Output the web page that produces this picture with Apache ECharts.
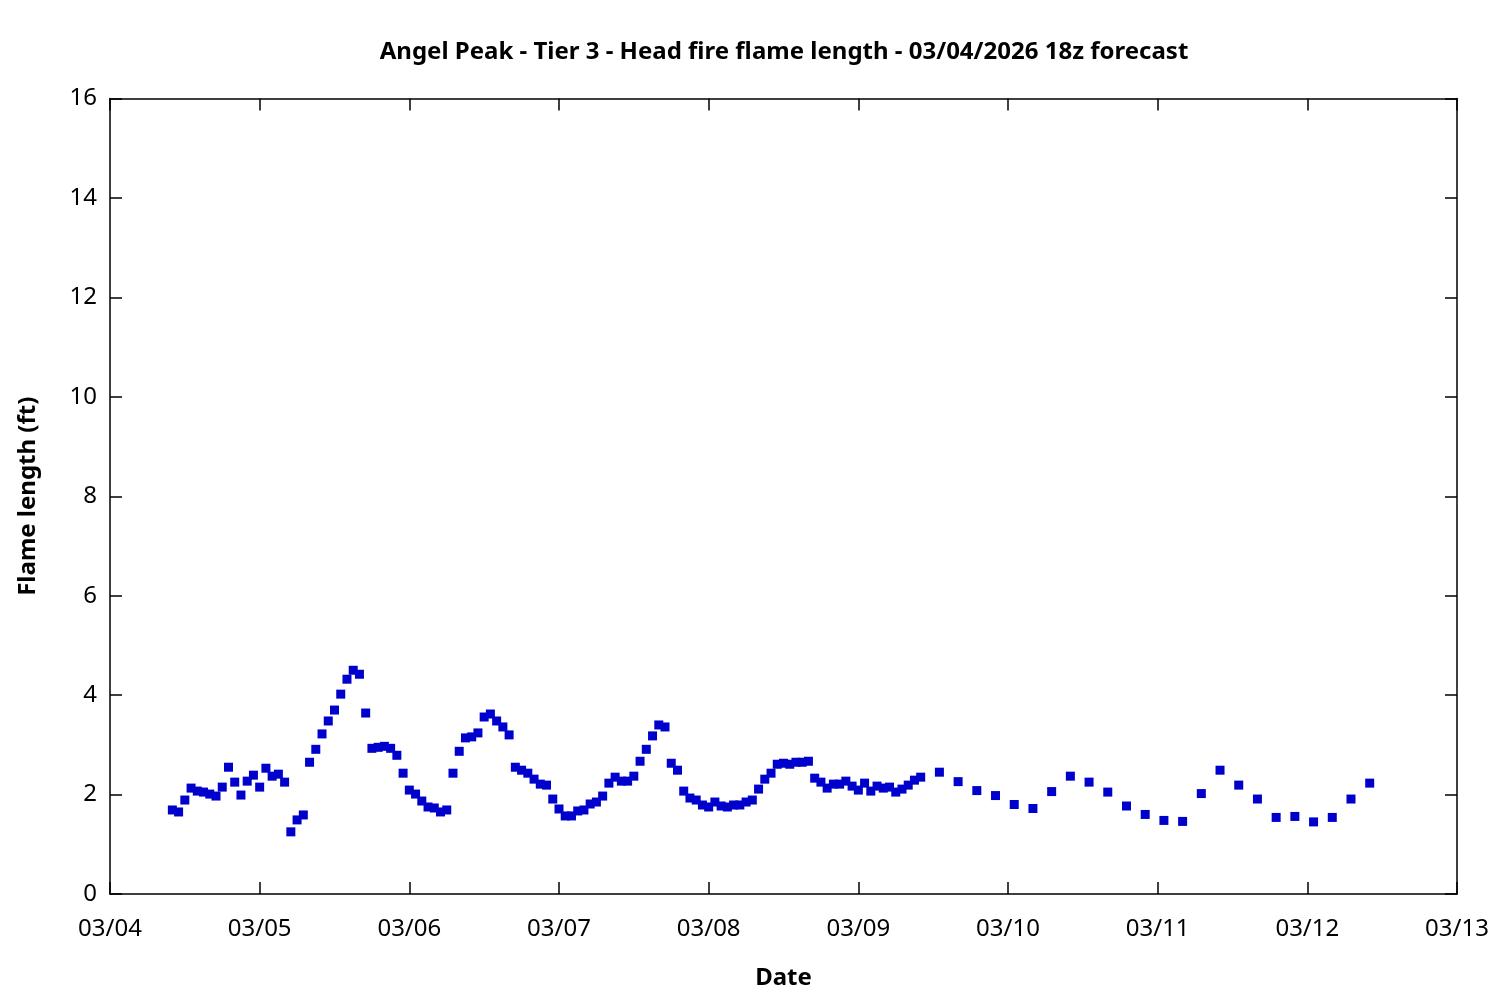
<!DOCTYPE html>
<html>
<head>
<meta charset="utf-8">
<script src="https://cdn.jsdelivr.net/npm/echarts@6/dist/echarts.min.js"></script>
<style>html,body{margin:0;padding:0;background:#fff}#c{width:1500px;height:1000px}</style>
</head>
<body>
<div id="c"></div>
<script>
// Hourly forecast, 03/04 10z .. 03/09 10z
var hourlyStart = '2026-03-04 10:00';
var hourlyValues = [
  1.69,1.65,1.89,2.13,2.07,2.05,2.01,1.97,2.15,2.55,2.25,1.99,2.27,2.39,2.15,2.53,2.37,2.41,2.25,1.25,
  1.49,1.59,2.65,2.91,3.22,3.48,3.70,4.02,4.32,4.50,4.42,3.64,2.93,2.95,2.97,2.93,2.79,2.43,2.09,2.01,
  1.87,1.75,1.73,1.65,1.69,2.43,2.87,3.14,3.16,3.24,3.56,3.62,3.48,3.36,3.20,2.55,2.49,2.43,2.31,2.21,
  2.19,1.91,1.71,1.57,1.57,1.67,1.69,1.81,1.85,1.97,2.23,2.35,2.27,2.27,2.37,2.67,2.91,3.18,3.40,3.36,
  2.63,2.49,2.07,1.93,1.89,1.79,1.75,1.85,1.77,1.75,1.79,1.79,1.85,1.89,2.11,2.31,2.43,2.61,2.63,2.61,
  2.65,2.65,2.67,2.33,2.25,2.13,2.21,2.21,2.27,2.17,2.09,2.23,2.07,2.17,2.13,2.15,2.05,2.11,2.19,2.29,
  2.35
];
// 3-hourly forecast, 03/09 13z .. 03/12 10z
var threeHourlyStart = '2026-03-09 13:00';
var threeHourlyValues = [
  2.45,2.26,2.08,1.98,1.80,1.72,2.06,2.37,2.25,2.05,1.77,1.60,1.48,1.46,2.02,2.49,2.19,1.91,1.54,1.56,
  1.45,1.54,1.91,2.23
];
var xTickLabels = ['03/04','03/05','03/06','03/07','03/08','03/09','03/10','03/11','03/12','03/13'];
var yTickLabels = ['0','2','4','6','8','10','12','14','16'];

var titleText = 'Angel Peak - Tier 3 - Head fire flame length - 03/04/2026 18z forecast';
var xName = 'Date';
var yName = 'Flame length (ft)';

// hours since 03/04 00z
function hoursFrom(str){
  var d = str.split(' '), dp = d[0].split('-'), tp = d[1].split(':');
  var day = parseInt(dp[2],10) - 4;
  return day*24 + parseInt(tp[0],10);
}
var pts = [];
var h0 = hoursFrom(hourlyStart);
hourlyValues.forEach(function(v,i){ pts.push([h0 + i, v]); });
var h1 = hoursFrom(threeHourlyStart);
threeHourlyValues.forEach(function(v,i){ pts.push([h1 + 3*i, v]); });

var FONT = '"Noto Sans", "Open Sans", sans-serif';
var FS = 24;
var chart = echarts.init(document.getElementById('c'), null, {renderer:'canvas'});
var lineStyle = {color:'#000', width:1.5};
chart.setOption({
  animation:false,
  backgroundColor:'#fff',
  title:{
    text:titleText, left:779, top:35, textAlign:'center',
    textStyle:{fontFamily:FONT, fontWeight:'bold', fontSize:FS, color:'#000'}
  },
  grid:{left:110, right:43, top:98.5, bottom:106, containLabel:false},
  xAxis:[{
    type:'value', min:0, max:216, interval:24,
    name:xName, nameLocation:'middle', nameGap:72,
    nameTextStyle:{fontFamily:FONT, fontWeight:'bold', fontSize:FS, color:'#000'},
    axisLine:{show:true, onZero:false, lineStyle:lineStyle},
    axisTick:{show:true, inside:true, length:12, lineStyle:lineStyle},
    axisLabel:{fontFamily:FONT, fontSize:FS, color:'#000', margin:23, showMinLabel:true, showMaxLabel:true,
      formatter:function(v){ return xTickLabels[Math.round(v/24)]; }},
    splitLine:{show:false}
  },{
    type:'value', min:0, max:216, interval:24, position:'top',
    axisLine:{show:true, onZero:false, lineStyle:lineStyle},
    axisTick:{show:true, inside:true, length:12, lineStyle:lineStyle},
    axisLabel:{show:false}, splitLine:{show:false}
  }],
  yAxis:[{
    type:'value', min:0, max:16, interval:2,
    name:yName, nameLocation:'middle', nameGap:70,
    nameTextStyle:{fontFamily:FONT, fontWeight:'bold', fontSize:FS, color:'#000'},
    axisLine:{show:true, onZero:false, lineStyle:lineStyle},
    axisTick:{show:true, inside:true, length:12, lineStyle:lineStyle},
    axisLabel:{fontFamily:FONT, fontSize:FS, color:'#000', margin:13,
      formatter:function(v){ return yTickLabels[Math.round(v/2)]; }},
    splitLine:{show:false}
  },{
    type:'value', min:0, max:16, interval:2, position:'right',
    axisLine:{show:true, onZero:false, lineStyle:lineStyle},
    axisTick:{show:true, inside:true, length:12, lineStyle:lineStyle},
    axisLabel:{show:false}, splitLine:{show:false}
  }],
  series:[{
    type:'scatter', xAxisIndex:0, yAxisIndex:0,
    symbol:'rect', symbolSize:9,
    itemStyle:{color:'#0000cc', opacity:1},
    data:pts
  }]
});
</script>
</body>
</html>
